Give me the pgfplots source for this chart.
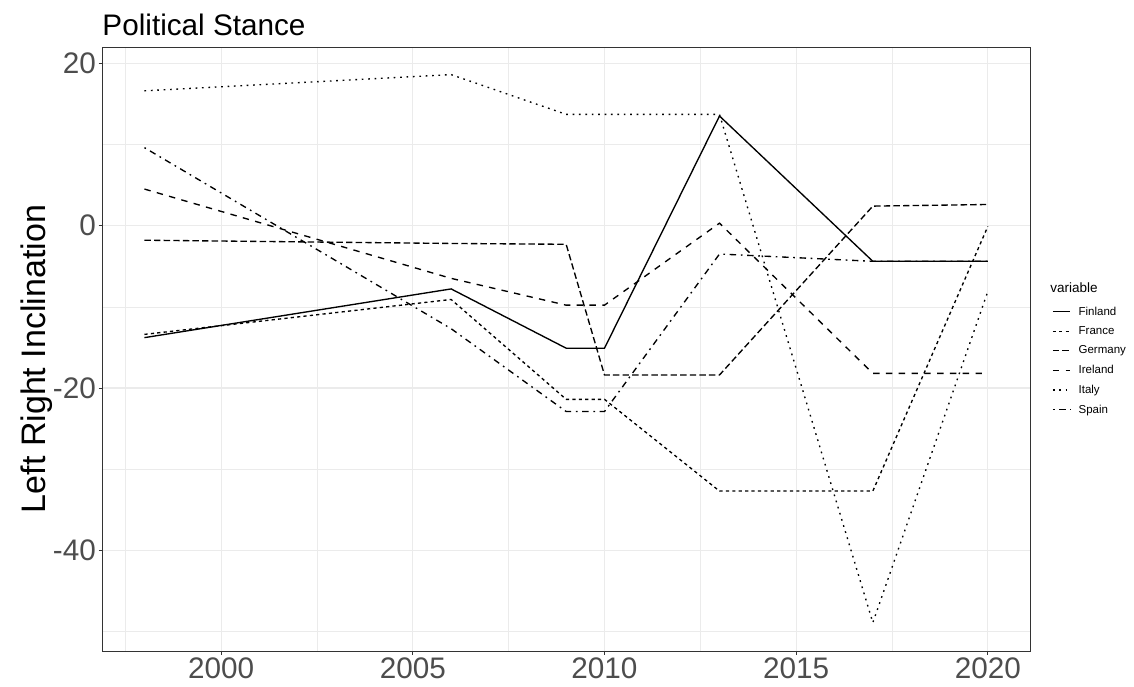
\documentclass[border=0pt]{standalone}
\usepackage{fontspec}
\setmainfont{Liberation Sans}
\usepackage{pgfplots}
\pgfplotsset{compat=1.18}
\definecolor{grid92}{HTML}{EBEBEB}
\definecolor{gray30}{HTML}{4D4D4D}
\definecolor{gray20}{HTML}{333333}
\newcommand\lstrut{\vphantom{Fy}}

\begin{document}
\begin{tikzpicture}
\path[use as bounding box] (-102.3pt,-35pt) rectangle (1031.7pt,651pt);
\begin{axis}[
  at={(0pt,0pt)}, anchor=south west,
  width=927.7pt, height=604pt, scale only axis,
  clip mode=individual,
  xmin=1996.9, xmax=2021.1, ymin=-52.4, ymax=22,
  xtick={2000,2005,2010,2015,2020},
  xticklabels={2000,2005,2010,2015,2020},
  minor xtick={1997.5,2002.5,2007.5,2012.5,2017.5},
  ytick={-40,-20,0,20},
  yticklabels={-40,-20,0,20},
  minor ytick={-50,-30,-10,10},
  grid=both,
  major grid style={grid92, line width=1.1pt},
  minor grid style={grid92, line width=0.55pt},
  axis line style={gray20, line width=0.9pt},
  tick style={gray20, line width=0.9pt},
  major tick length=3.7pt, minor tick length=0pt,
  tick align=outside, xtick pos=bottom, ytick pos=left,
  xticklabel style={font=\fontsize{29.7}{32}\selectfont, text=gray30, anchor=base, inner sep=0pt, yshift=-23.3pt},
  yticklabel style={font=\fontsize{29.7}{32}\selectfont, text=gray30, anchor=east, inner sep=0pt, xshift=-2.6pt},
  ylabel={Left Right Inclination},
  ylabel style={font=\fontsize{34}{40}\selectfont, at={(axis description cs:-0.0615,0.4834)}, anchor=base, inner sep=0pt},
  title={Political Stance},
  title style={font=\fontsize{29.7}{32}\selectfont, at={(axis description cs:0,1)}, anchor=base west, inner sep=0pt, yshift=5pt},
  legend image code/.code={\draw[#1] (0pt,0pt) -- (17.6pt,0pt);},
  legend cell align=left,
  legend style={at={(axis description cs:1.0237,0.4806)}, anchor=west, draw=none, fill=none, inner sep=0pt,
    font=\fontsize{11.5}{13}\selectfont, row sep=9.9pt, nodes={inner sep=0pt},
    /tikz/every odd column/.append style={column sep=7.5pt}},
  every axis plot/.append style={black, line width=1.35pt},
]
% Finland
\addplot[solid] coordinates {(1998,-13.8) (2006,-7.8) (2009,-15.1) (2010,-15.1) (2013,13.5) (2017,-4.4) (2020,-4.4)};
\addlegendentry{Finland\lstrut}
% France
\addplot[dash pattern=on 3.2pt off 3.2pt] coordinates {(1998,-13.4) (2006,-9.1) (2009,-21.4) (2010,-21.4) (2013,-32.7) (2017,-32.7) (2020,-0.1)};
\addlegendentry{France\lstrut}
% Germany
\addplot[dash pattern=on 6.4pt off 3.2pt] coordinates {(1998,-1.8) (2006,-2.2) (2009,-2.3) (2010,-18.4) (2013,-18.4) (2017,2.4) (2020,2.6)};
\addlegendentry{Germany\lstrut}
% Ireland
\addplot[dash pattern=on 6.4pt off 6.4pt] coordinates {(1998,4.5) (2006,-6.5) (2009,-9.8) (2010,-9.8) (2013,0.3) (2017,-18.2) (2020,-18.2)};
\addlegendentry{Ireland\lstrut}
% Italy
\addplot[dash pattern=on 1.7pt off 4.7pt] coordinates {(1998,16.6) (2006,18.6) (2009,13.7) (2010,13.7) (2013,13.7) (2017,-48.9) (2020,-8.1)};
\addlegendentry{Italy\lstrut}
% Spain
\addplot[dash pattern=on 1.7pt off 4.7pt on 6.4pt off 4.7pt] coordinates {(1998,9.6) (2006,-12.7) (2009,-22.9) (2010,-22.9) (2013,-3.5) (2017,-4.4) (2020,-4.4)};
\addlegendentry{Spain\lstrut}
\node[anchor=base west, inner sep=0pt, font=\fontsize{13.5}{15}\selectfont] at (axis description cs:1.0216,0.5930) {variable};
\end{axis}
\end{tikzpicture}
\end{document}
